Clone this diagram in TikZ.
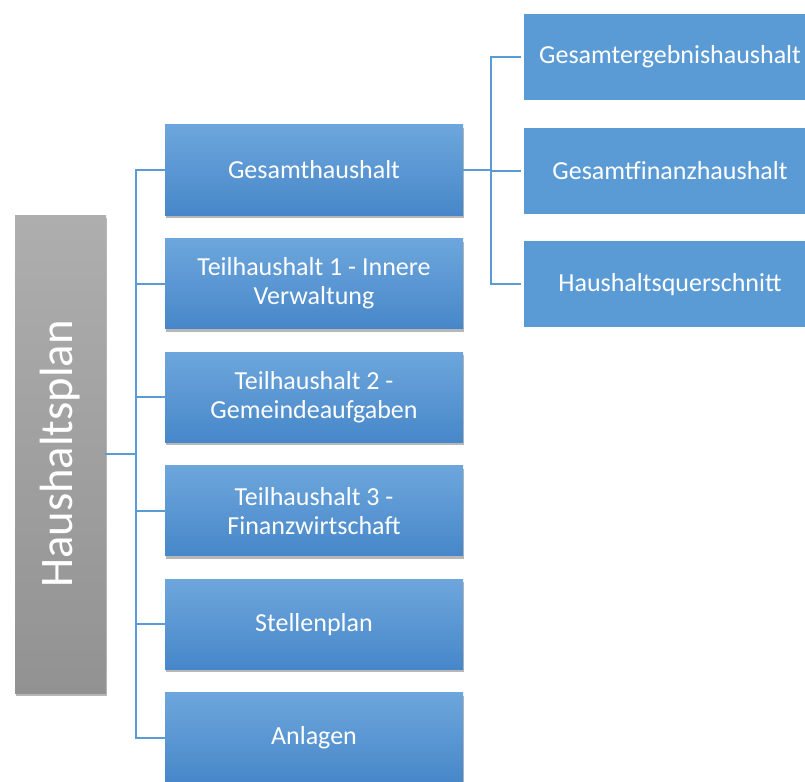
\documentclass[tikz,border=0pt]{standalone}
\usepackage{fontspec}
\setmainfont{Carlito}
\usetikzlibrary{positioning,shadows}
\definecolor{lineblue}{HTML}{5B9BD5}
\definecolor{boxtop}{HTML}{6DA6DC}
\definecolor{boxbot}{HTML}{4787C9}
\definecolor{graytop}{HTML}{AEAEAE}
\definecolor{graybot}{HTML}{929292}

\begin{document}
\begin{tikzpicture}[x=0.75pt,y=-0.75pt,
  every node/.style={text=white, font=\fontsize{19.5}{21.75}\selectfont},
  soft/.style={drop shadow={shadow xshift=1pt, shadow yshift=-2.25pt,
    opacity=.4, fill=black!70}},
  part/.style={rectangle, minimum width=223.5pt, minimum height=67.5pt,
    align=center, inner sep=0pt, top color=boxtop, bottom color=boxbot, soft},
  sub/.style={rectangle, fill=lineblue, minimum width=219pt,
    minimum height=64.5pt, inner sep=0pt},
  link/.style={draw=lineblue, line width=1.5pt, line cap=rect},
  node distance=17.25pt]
\useasboundingbox (0,0) rectangle (805,781);

\node[rectangle, minimum width=68.25pt, minimum height=358.5pt,
  top color=graytop, bottom color=graybot, soft] (plan) at (60.5,454) {};
\node[rotate=90, font=\fontsize{35}{42}\selectfont] (plantext) at (plan.center) {Haushaltsplan};

\node[part] (ges) at (314,170) {Gesamthaushalt};
\node[part, below=of ges] (th1) {Teilhaushalt 1 - Innere\\Verwaltung};
\node[part, below=of th1] (th2) {Teilhaushalt 2 -\\Gemeindeaufgaben};
\node[part, below=of th2] (th3) {Teilhaushalt 3 -\\Finanzwirtschaft};
\node[part, below=of th3] (stp) {Stellenplan};
\node[part, below=of stp] (anl) {Anlagen};

\node[sub] (erg) at (670,57) {Gesamtergebnishaushalt};
\node[sub, below=20.25pt of erg] (fin) {Gesamtfinanzhaushalt};
\node[sub, below=20.25pt of fin] (quer) {Haushaltsquerschnitt};

% tree on the left
\draw[link] (plan.east) -- ++(22.5pt,0) coordinate (fork);
\draw[link] (fork |- ges.west) -- (fork |- anl.west);
\foreach \n in {ges,th1,th2,th3,stp,anl}
  \draw[link] (fork |- \n.west) -- (\n.west);

% tree on the right
\draw[link] (ges.east) -- ++(21pt,0) coordinate (fork2);
\draw[link] (fork2 |- erg.west) -- (fork2 |- quer.west);
\foreach \n in {erg,fin,quer}
  \draw[link] (fork2 |- \n.west) -- ([xshift=-3pt]\n.west);
\end{tikzpicture}
\end{document}
